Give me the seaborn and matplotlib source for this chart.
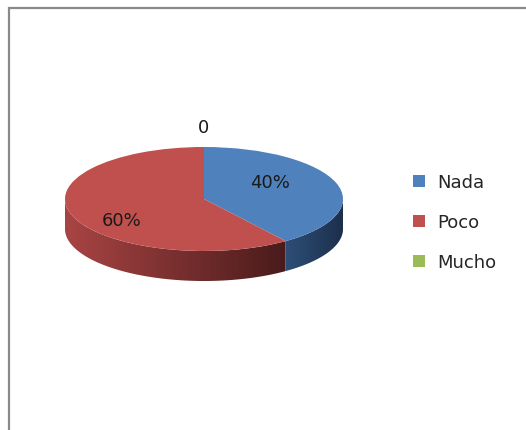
import numpy as np
import seaborn as sns
import matplotlib.pyplot as plt
from matplotlib.patches import Polygon, Patch, Rectangle
from matplotlib.colors import LinearSegmentedColormap

# data
categories = ["Nada", "Poco", "Mucho"]
values = [40, 60, 0]
labels = ["40%", "60%", "0"]

top_colors = ["#4F81BD", "#C0504D", "#9BBB59"]
side_colors = [("#2E4E78", "#1B2F4A"), ("#A94444", "#4A1B1B"), ("#7E9A46", "#4E6228")]

sns.set_theme(style="white")
plt.rcParams["font.family"] = ["DejaVu Sans"]

W, H = 526, 431
fig = plt.figure(figsize=(W / 100, H / 100), dpi=100)

# pixel geometry of the pie
cx, cy, a, b, depth_px = 204, 200, 139, 52, 30
xr, ylo, yhi = 1.3, -1.9, 1.5
ax = fig.add_axes([(cx - a * xr) / W, (H - (cy - ylo * b)) / H,
                   2 * xr * a / W, (yhi - ylo) * b / H])
d = depth_px / b

wedges, _ = ax.pie(values, colors=top_colors, startangle=90, counterclock=False,
                   wedgeprops=dict(linewidth=0))
for w in wedges:
    w.set_zorder(5)

# side walls (front half only), shaded left->right
for w, (c1, c2) in zip(wedges, side_colors):
    t = np.radians(np.linspace(w.theta1, w.theta2, 400))
    t = t[np.sin(t) <= 1e-9]
    if len(t) < 2:
        continue
    xs, ys = np.cos(t), np.sin(t)
    pts = np.vstack([np.column_stack([xs, ys]), np.column_stack([xs[::-1], ys[::-1] - d])])
    poly = Polygon(pts, closed=True, facecolor="none", edgecolor="none")
    ax.add_patch(poly)
    cmap = LinearSegmentedColormap.from_list("side", [c1, c2])
    grad = np.linspace(0, 1, 256).reshape(1, -1)
    im = ax.imshow(grad, extent=(xs.min(), xs.max(), -1 - d, 0), cmap=cmap,
                   aspect="auto", zorder=2, interpolation="bilinear")
    im.set_clip_path(poly)

# slice labels
mids = []
start = 90
total = sum(values)
for v in values:
    ang = start - v / total * 360 / 2
    mids.append(np.radians(ang))
    start -= v / total * 360
radii = [0.5, 0.62, 0.0]
for lab, v, m, r in zip(labels, values, mids, radii):
    if v == 0:
        x, y = 0, 1.38
    else:
        x, y = r * np.cos(m), r * np.sin(m) * 2.1
    ax.text(x, y, lab, ha="center", va="center", fontsize=13, color="#1a1a1a", zorder=10)

ax.set_aspect("auto")
ax.set_xlim(-xr, xr)
ax.set_ylim(ylo, yhi)
ax.axis("off")

# legend
handles = [Patch(facecolor=c, edgecolor="none") for c in top_colors]
fig.legend(handles, categories, loc="upper left", bbox_to_anchor=(413 / W, 1 - 174 / H),
           frameon=False, fontsize=13, handlelength=0.67, handleheight=0.67,
           handletextpad=0.65, labelspacing=1.22, borderpad=0, borderaxespad=0)

# chart area border
fig.patches.append(Rectangle((9 / W, -0.1), 1.2, 1 - 9 / H + 0.1, transform=fig.transFigure,
                             fill=False, edgecolor="#8a8a8a", linewidth=1.6))

fig.savefig("out.png", dpi=100)
